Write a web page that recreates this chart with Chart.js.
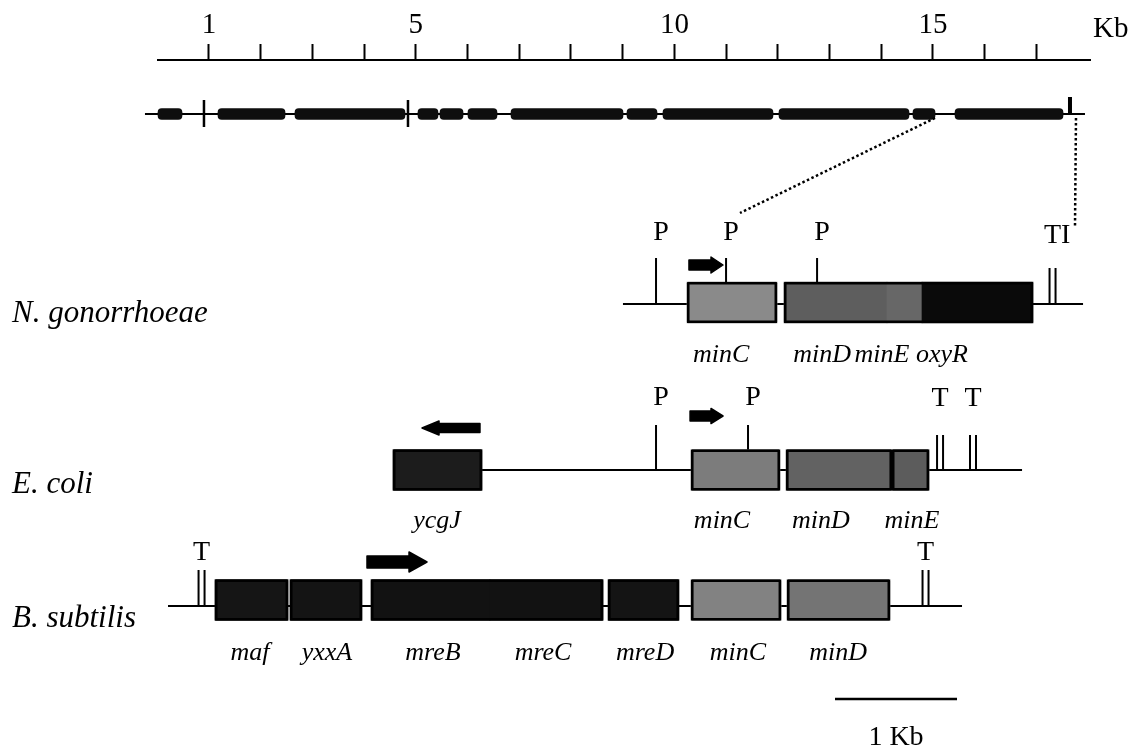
<!DOCTYPE html>
<html>
<head>
<meta charset="utf-8">
<script src="https://cdn.jsdelivr.net/npm/chart.js@4.4.1/dist/chart.umd.min.js"></script>
<style>
html,body{margin:0;padding:0;background:#fff;}
#wrap{width:1143px;height:756px;position:relative;background:#fff;}
canvas{display:block;}
</style>
</head>
<body>
<div id="wrap"><canvas id="c"></canvas></div>
<script>
// ================= DATA =================
// Overview ruler (Kb)
const rulerTicks = [1,2,3,4,5,6,7,8,9,10,11,12,13,14,15,16,17];
const rulerLabelled = [1,5,10,15];
const rulerUnit = 'Kb';
const rulerRange = [0.014, 18.036];

// Overview genome map (Kb on the ruler)
const genomeSpan = [-0.238, 17.939];
const genomeBlocks = [[0.014,0.478],[1.174,2.470],[2.663,4.790],[5.041,5.428],[5.467,5.912],[6.008,6.569],[6.840,9.006],[9.083,9.663],[9.779,11.906],[12.022,14.536],[14.613,15.039],[15.426,17.514]];
const genomeTicks = [0.903, 4.848];
const genomeEnd = [17.649];
// zoom connectors: from overview Kb to detail Kb
const zoomFrom = [15.039, 17.765];
const zoomTo = [4.770, 7.516];

// Detail maps (Kb along the 1 Kb scale bar)
const detailRange = [0, 7.639];
const scaleBar = [5.549, 6.549];
const scaleBarLabel = '1 Kb';

const ngoName = 'N. gonorrhoeae';
const ngoSpan = [3.811, 7.582];
const ngoGenes = ['minC','minD','minE','oxyR'];
const ngoStart = [4.336,5.131,5.975,6.262];
const ngoEnd = [5.074,5.975,6.262,7.172];
const ngoLabelAt = [4.615,5.443,5.934,6.426];
const ngoBoxes = [[4.336,5.074],[5.131,7.172]];
const ngoPromoters = [4.082,4.656,5.402];
const ngoTerminators = [7.332];
const ngoTermLabels = ['TI'];
const ngoArrows = [[4.352,4.631]];

const ecoName = 'E. coli';
const ecoSpan = [2.656, 7.082];
const ecoGenes = ['ycgJ','minC','minD','minE'];
const ecoStart = [1.926,4.369,5.148,6.016];
const ecoEnd = [2.656,5.098,6.016,6.320];
const ecoLabelAt = [2.287,4.623,5.434,6.180];
const ecoBoxes = [[1.926,2.656],[4.369,5.098],[5.148,6.016],[6.016,6.320]];
const ecoPromoters = [4.082,4.836];
const ecoTerminators = [6.410,6.680];
const ecoTermLabels = ['T','T'];
const ecoArrows = [[2.639,2.164],[4.361,4.631]];

const bsuName = 'B. subtilis';
const bsuSpan = [0.082, 6.590];
const bsuGenes = ['maf','yxxA','mreB','mreC','mreD','minC','minD'];
const bsuStart = [0.467,1.082,1.746,2.721,3.689,4.369,5.156];
const bsuEnd = [1.066,1.672,2.721,3.648,4.270,5.107,6.000];
const bsuLabelAt = [0.754,1.385,2.254,3.156,3.992,4.754,5.574];
const bsuBoxes = [[0.467,1.066],[1.082,1.672],[1.746,3.648],[3.689,4.270],[4.369,5.107],[5.156,6.000]];
const bsuPromoters = [];
const bsuTerminators = [0.357,6.291];
const bsuTermLabels = ['T','T'];
const bsuArrows = [[1.713,2.205]];

// ================= LAYOUT & STYLE =================
const FONT = "'Liberation Serif','Times New Roman',Times,serif";
const LAYOUT = {
  W:1143, H:756, left:158, right:1090, axisBottom:60,
  tickLen:16, rulerFont:29,
  genome:{y:114, blockH:11, tickUp:14, tickDown:13, endUp:17, endDown:1},
  zoomY:[[118,213],[118,227]],
  termGapPx:6,
  scaleBarY:699, scaleBarLabelY:745,
  unitX:1093, unitY:37,
  nameX:12, nameFont:31, geneFont:26, markFont:28,
  tracks:{
    ngo:{line:304, box:302.5, boxH:41, promTop:258, termTop:268, promLabel:240, termLabel:243, geneLabel:362, name:322,
         arrowY:[265], arrowSize:[[10,16,12]]},
    eco:{line:470, box:470, boxH:41, promTop:425, termTop:435, promLabel:405, termLabel:406, geneLabel:528, name:493,
         arrowY:[428,416], arrowSize:[[9,14,17],[10,15,12]]},
    bsu:{line:606, box:600, boxH:41, promTop:560, termTop:570, promLabel:558, termLabel:560, geneLabel:660, name:627,
         arrowY:[562], arrowSize:[[12,20,18]]}
  }
};
const STYLE = {
  ngo:['#8a8a8a','#5e5e5e','#676767','#0a0a0a'],
  eco:['#1c1c1c','#7c7c7c','#626262','#5c5c5c'],
  bsu:['#151515','#141414','#121212','#121212','#141414','#828282','#747474']
};

const TRACKS = [
  {key:'ngo', name:ngoName, span:ngoSpan, genes:ngoGenes, start:ngoStart, end:ngoEnd, labelAt:ngoLabelAt, boxes:ngoBoxes, prom:ngoPromoters, term:ngoTerminators, termLabels:ngoTermLabels, arrows:ngoArrows},
  {key:'eco', name:ecoName, span:ecoSpan, genes:ecoGenes, start:ecoStart, end:ecoEnd, labelAt:ecoLabelAt, boxes:ecoBoxes, prom:ecoPromoters, term:ecoTerminators, termLabels:ecoTermLabels, arrows:ecoArrows},
  {key:'bsu', name:bsuName, span:bsuSpan, genes:bsuGenes, start:bsuStart, end:bsuEnd, labelAt:bsuLabelAt, boxes:bsuBoxes, prom:bsuPromoters, term:bsuTerminators, termLabels:bsuTermLabels, arrows:bsuArrows}
];

// ================= DATASETS =================
const datasets = [];
function seg(axis, x1, y1, x2, y2, w, extra) {
  return Object.assign({
    type:'line', xAxisID:axis, yAxisID:'y',
    data:[{x:x1,y:y1},{x:x2,y:y2}],
    borderColor:'#000', borderWidth:w, pointRadius:0, pointHoverRadius:0,
    fill:false, tension:0, clip:false, borderCapStyle:'butt', order:10
  }, extra || {});
}
const G = LAYOUT.genome;
datasets.push(seg('xTop', genomeSpan[0], G.y, genomeSpan[1], G.y, 2, {order:12}));
genomeTicks.forEach(k => datasets.push(seg('xTop', k, G.y - G.tickUp, k, G.y + G.tickDown, 2.5, {order:1})));
genomeEnd.forEach(k => datasets.push(seg('xTop', k, G.y - G.endUp, k, G.y + G.endDown, 4, {order:1})));
datasets.push({
  type:'bar', indexAxis:'y', xAxisID:'xTop', yAxisID:'y', grouped:false,
  data: genomeBlocks.map(b => ({x:b, y:G.y})),
  backgroundColor:'#0e0e0e', borderWidth:0, borderRadius:4, borderSkipped:false,
  barThickness:G.blockH, clip:false, order:5
});

const kbPerPx = (detailRange[1]-detailRange[0]) / (LAYOUT.right - LAYOUT.left);
const termHalf = LAYOUT.termGapPx / 2 * kbPerPx;

TRACKS.forEach(t => {
  const L = LAYOUT.tracks[t.key];
  datasets.push(seg('xD', t.span[0], L.line, t.span[1], L.line, 2, {order:12}));
  datasets.push({
    type:'bar', indexAxis:'y', xAxisID:'xD', yAxisID:'y', grouped:false,
    data: t.genes.map((g,i) => ({x:[t.start[i], t.end[i]], y:L.box})),
    backgroundColor: STYLE[t.key], borderWidth:0, borderSkipped:false,
    barThickness:L.boxH, clip:false, order:4
  });
  datasets.push({
    type:'bar', indexAxis:'y', xAxisID:'xD', yAxisID:'y', grouped:false,
    data: t.boxes.map(b => ({x:b, y:L.box})),
    backgroundColor:'rgba(0,0,0,0)', borderColor:'#000', borderWidth:2.2, borderSkipped:false, borderRadius:1.5,
    barThickness:L.boxH, clip:false, order:3
  });
  const boxTop = L.box - L.boxH/2;
  t.prom.forEach(p => {
    const inBox = t.boxes.some(b => p > b[0] && p < b[1]);
    datasets.push(seg('xD', p, L.promTop, p, inBox ? boxTop : L.line, 2, {order:2}));
  });
  t.term.forEach(p => {
    datasets.push(seg('xD', p - termHalf, L.termTop, p - termHalf, L.line, 2, {order:2}));
    datasets.push(seg('xD', p + termHalf, L.termTop, p + termHalf, L.line, 2, {order:2}));
  });
});
datasets.push(seg('xD', scaleBar[0], LAYOUT.scaleBarY, scaleBar[1], LAYOUT.scaleBarY, 2.5, {order:2}));

// ================= DECORATION PLUGIN (labels, arrows, connectors) =================
function drawArrow(ctx, x1, x2, yc, bodyH, headH, headL) {
  const dir = x2 > x1 ? 1 : -1;
  const hx = x2 - dir * headL;
  ctx.beginPath();
  ctx.moveTo(x1, yc - bodyH/2);
  ctx.lineTo(hx, yc - bodyH/2);
  ctx.lineTo(hx, yc - headH/2);
  ctx.lineTo(x2, yc);
  ctx.lineTo(hx, yc + headH/2);
  ctx.lineTo(hx, yc + bodyH/2);
  ctx.lineTo(x1, yc + bodyH/2);
  ctx.closePath();
  ctx.fillStyle = '#000';
  ctx.strokeStyle = '#000';
  ctx.lineWidth = 1.5;
  ctx.lineJoin = 'round';
  ctx.fill();
  ctx.stroke();
}
function text(ctx, s, x, y, size, italic, align) {
  ctx.font = (italic ? 'italic ' : '') + size + 'px ' + FONT;
  ctx.textAlign = align || 'center';
  ctx.textBaseline = 'alphabetic';
  ctx.fillStyle = '#000';
  ctx.fillText(s, x, y);
}
const decor = {
  id:'decor',
  afterDatasetsDraw(chart) {
    const ctx = chart.ctx;
    const xT = chart.scales.xTop, xD = chart.scales.xD, yS = chart.scales.y;
    ctx.save();
    // zoom connectors (dotted)
    ctx.setLineDash([2.5, 2.5]);
    ctx.lineWidth = 2.5;
    ctx.strokeStyle = '#000';
    zoomFrom.forEach((k, i) => {
      ctx.beginPath();
      ctx.moveTo(xT.getPixelForValue(k), yS.getPixelForValue(LAYOUT.zoomY[i][0]));
      ctx.lineTo(xD.getPixelForValue(zoomTo[i]), yS.getPixelForValue(LAYOUT.zoomY[i][1]));
      ctx.stroke();
    });
    ctx.setLineDash([]);
    // ruler unit
    text(ctx, rulerUnit, LAYOUT.unitX, LAYOUT.unitY, LAYOUT.rulerFont, false, 'left');
    // tracks
    TRACKS.forEach(t => {
      const L = LAYOUT.tracks[t.key];
      text(ctx, t.name, LAYOUT.nameX, yS.getPixelForValue(L.name), LAYOUT.nameFont, true, 'left');
      t.genes.forEach((g, i) => text(ctx, g, xD.getPixelForValue(t.labelAt[i]), yS.getPixelForValue(L.geneLabel), LAYOUT.geneFont, true));
      t.prom.forEach(p => text(ctx, 'P', xD.getPixelForValue(p) + 5, yS.getPixelForValue(L.promLabel), LAYOUT.markFont, false));
      t.term.forEach((p, i) => {
        const lab = t.termLabels[i];
        const x = xD.getPixelForValue(p);
        if (lab.length > 1) {
          ctx.font = LAYOUT.markFont + 'px ' + FONT;
          const w = ctx.measureText(lab[0]).width;
          text(ctx, lab, x - w/2, yS.getPixelForValue(L.termLabel), LAYOUT.markFont, false, 'left');
        } else {
          text(ctx, lab, x, yS.getPixelForValue(L.termLabel), LAYOUT.markFont, false);
        }
      });
      t.arrows.forEach((a, i) => {
        const sz = L.arrowSize[i];
        drawArrow(ctx, xD.getPixelForValue(a[0]), xD.getPixelForValue(a[1]), yS.getPixelForValue(L.arrowY[i]), sz[0], sz[1], sz[2]);
      });
    });
    // scale bar label
    text(ctx, scaleBarLabel, xD.getPixelForValue((scaleBar[0]+scaleBar[1])/2), LAYOUT.scaleBarLabelY, LAYOUT.markFont, false);
    ctx.restore();
  }
};

// ================= CHART =================
new Chart(document.getElementById('c'), {
  type:'bar',
  data:{datasets},
  options:{
    indexAxis:'y',
    responsive:true, maintainAspectRatio:false, animation:false, devicePixelRatio:1,
    events:[],
    layout:{padding:{left:LAYOUT.left, right:LAYOUT.W - LAYOUT.right, top:0, bottom:0}},
    plugins:{legend:{display:false}, tooltip:{enabled:false}, title:{display:false}},
    scales:{
      xTop:{
        type:'linear', axis:'x', position:'top', offset:false, min:rulerRange[0], max:rulerRange[1],
        afterBuildTicks: s => { s.ticks = rulerTicks.map(v => ({value:v})); },
        afterFit: s => { s.height = LAYOUT.axisBottom; },
        grid:{display:true, drawOnChartArea:false, drawTicks:true, tickLength:LAYOUT.tickLen, tickWidth:2, tickColor:'#000', offset:false},
        border:{display:true, color:'#000', width:2},
        ticks:{autoSkip:false, maxRotation:0, minRotation:0, padding:1, color:'#000',
               font:{family:FONT, size:LAYOUT.rulerFont},
               callback: v => rulerLabelled.includes(v) ? String(v) : ''}
      },
      xD:{type:'linear', axis:'x', position:'bottom', display:false, offset:false, grid:{offset:false}, min:detailRange[0], max:detailRange[1]},
      y:{type:'linear', axis:'y', position:'left', display:false, offset:false, grid:{offset:false}, reverse:true, min:LAYOUT.axisBottom, max:LAYOUT.H}
    }
  },
  plugins:[decor]
});
</script>
</body>
</html>
